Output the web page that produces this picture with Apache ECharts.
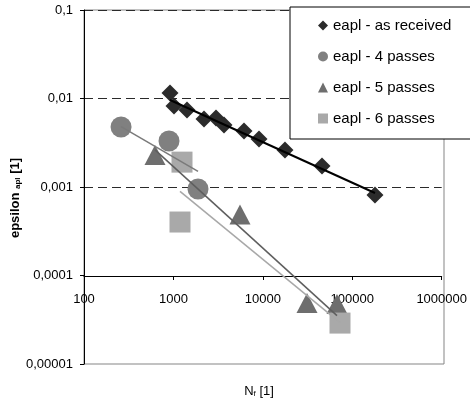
<!DOCTYPE html>
<html>
<head>
<meta charset="utf-8">
<script src="https://cdn.jsdelivr.net/npm/echarts@6/dist/echarts.min.js"></script>
<style>
html,body{margin:0;padding:0;background:#fff;}
#chart{width:470px;height:401px;}
</style>
</head>
<body>
<div id="chart"></div>
<script>
// ---- data ----
const seriesNames = ['eapl - as received', 'eapl - 4 passes', 'eapl - 5 passes', 'eapl - 6 passes'];

const xAsReceived = [903, 1000, 1395, 2154, 2929, 3594, 5995, 8799, 17100, 44100, 171000];
const yAsReceived = [0.01153, 0.00822, 0.00741, 0.00587, 0.00602, 0.00502, 0.0043, 0.00349, 0.00262, 0.00173, 0.000813];

const x4Passes = [258, 880, 1849];
const y4Passes = [0.00476, 0.00331, 0.000949];

const x5Passes = [615, 5410, 30050, 64700];
const y5Passes = [0.0023, 0.000489, 0.0000489, 0.0000476];

const x6Passes = [1227, 1166, 69900];
const y6Passes = [0.00191, 0.000402, 0.000029];

// power trend lines (end points)
const trendAsReceived = [[903, 0.00962], [171000, 0.000855]];
const trend4Passes = [[258, 0.00482], [1849, 0.0015]];
const trend5Passes = [[615, 0.00263], [64700, 0.0000352]];
const trend6Passes = [[1166, 0.000894], [69900, 0.0000293]];

const yTickLabels = {'-5': '0,00001', '-4': '0,0001', '-3': '0,001', '-2': '0,01', '-1': '0,1'};
const xTickLabels = {'2': '100', '3': '1000', '4': '10000', '5': '100000', '6': '1000000'};

// ---- build ----
const zip = (xs, ys) => xs.map((x, i) => [x, ys[i]]);
const FONT = "'Liberation Sans', Arial, sans-serif";

const chart = echarts.init(document.getElementById('chart'), null, {renderer: 'canvas'});

const option = {
  animation: false,
  backgroundColor: '#ffffff',
  textStyle: {fontFamily: FONT},
  grid: [
    {left: 84, right: 26, top: 10, bottom: 37, show: true, borderColor: '#858585', borderWidth: 1, backgroundColor: 'transparent'},
    {left: 84, right: 26, top: 10, height: 266, show: false}
  ],
  xAxis: [
    {gridIndex: 0, type: 'log', logBase: 10, min: 100, max: 1000000, show: false},
    {gridIndex: 1, type: 'log', logBase: 10, min: 100, max: 1000000,
      axisLine: {show: true, lineStyle: {color: '#000', width: 1}},
      axisTick: {show: true, inside: false, length: 4, lineStyle: {color: '#000'}},
      splitLine: {show: false}, minorTick: {show: false},
      axisLabel: {show: true, margin: 17, color: '#000', fontSize: 13, fontFamily: FONT,
        formatter: v => xTickLabels[String(Math.round(Math.log10(v)))] || ''}
    }
  ],
  yAxis: [
    {gridIndex: 0, type: 'log', logBase: 10, min: 0.00001, max: 0.1,
      axisLine: {show: true, lineStyle: {color: '#000', width: 1}},
      axisTick: {show: true, inside: false, length: 4, lineStyle: {color: '#000'}},
      splitLine: {show: false}, minorTick: {show: false},
      axisLabel: {show: true, margin: 11, color: '#000', fontSize: 13, fontFamily: FONT,
        formatter: v => yTickLabels[String(Math.round(Math.log10(v)))] || ''}
    },
    {gridIndex: 1, type: 'log', logBase: 10, min: 0.0001, max: 0.1,
      axisLine: {show: false}, axisTick: {show: false}, axisLabel: {show: false}, minorTick: {show: false},
      splitLine: {show: true, showMinLine: false, showMaxLine: false,
        lineStyle: {type: [9, 5], color: '#2a2a2a', width: 1}}
    }
  ],
  legend: {
    show: true,
    orient: 'vertical',
    left: 290, top: 7,
    padding: [11, 34, 13, 28],
    itemGap: 16,
    itemWidth: 10, itemHeight: 10,
    backgroundColor: '#fff',
    borderColor: '#000', borderWidth: 1, borderRadius: 0,
    textStyle: {fontSize: 15, color: '#000', fontFamily: FONT},
    data: seriesNames,
    z: 10
  },
  series: [
    {type: 'line', name: 't0', data: trendAsReceived, showSymbol: false, symbol: 'none', z: 4,
      lineStyle: {color: '#000', width: 2}},
    {type: 'line', name: 't1', data: trend4Passes, showSymbol: false, symbol: 'none', z: 3,
      lineStyle: {color: '#7a7a7a', width: 1.5}},
    {type: 'line', name: 't2', data: trend5Passes, showSymbol: false, symbol: 'none', z: 3,
      lineStyle: {color: '#5e5e5e', width: 1.5}},
    {type: 'line', name: 't3', data: trend6Passes, showSymbol: false, symbol: 'none', z: 3,
      lineStyle: {color: '#a8a8a8', width: 1.5}},
    {type: 'scatter', name: seriesNames[0], data: zip(xAsReceived, yAsReceived), symbol: 'diamond', symbolSize: 17, z: 3,
      itemStyle: {color: '#2b2b2b', opacity: 1}},
    {type: 'scatter', name: seriesNames[1], data: zip(x4Passes, y4Passes), symbol: 'circle', symbolSize: 21, z: 2,
      itemStyle: {color: '#808080', opacity: 1}},
    {type: 'scatter', name: seriesNames[2], data: zip(x5Passes, y5Passes), symbol: 'triangle', symbolSize: [21, 20], z: 2,
      itemStyle: {color: '#6e6e6e', opacity: 1}},
    {type: 'scatter', name: seriesNames[3], data: zip(x6Passes, y6Passes), symbol: 'rect', symbolSize: 21, z: 2,
      itemStyle: {color: '#a9a9a9', opacity: 1}}
  ],
  graphic: [
    {type: 'text', x: 14, y: 198, rotation: Math.PI / 2, z: 20,
      style: {text: '{b|epsilon }{s|apl}{b| [1]}', align: 'center', verticalAlign: 'middle',
        rich: {
          b: {fontSize: 13, fontWeight: 'bold', fontFamily: FONT, fill: '#000', lineHeight: 16, verticalAlign: 'bottom'},
          s: {fontSize: 8, fontWeight: 'bold', fontFamily: FONT, fill: '#000', lineHeight: 11, verticalAlign: 'bottom'}
        }}},
    {type: 'text', x: 259, y: 390, z: 20,
      style: {text: '{b|N}{s|f}{b| [1]}', align: 'center', verticalAlign: 'middle',
        rich: {
          b: {fontSize: 13, fontFamily: FONT, fill: '#000', lineHeight: 16, verticalAlign: 'bottom'},
          s: {fontSize: 8, fontFamily: FONT, fill: '#000', lineHeight: 11, verticalAlign: 'bottom'}
        }}}
  ]
};
chart.setOption(option);
</script>
</body>
</html>
